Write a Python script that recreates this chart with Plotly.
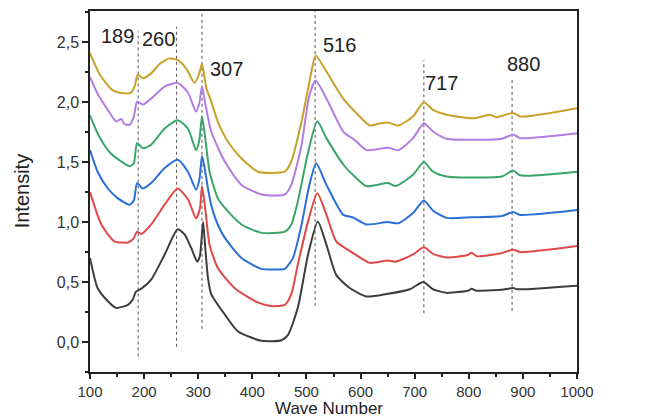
import plotly.graph_objects as go

# ---- data ----
wn_0 = [100, 114, 133, 148, 170, 179, 185, 195, 213, 238, 262, 275, 287, 298, 303, 309, 313, 318, 324, 349, 373, 417, 454, 466, 484, 503, 521, 537, 555, 580, 611, 648, 691, 716, 734, 759, 800, 805, 812, 860, 882, 890, 1000]
int_0 = [0.70, 0.45, 0.34, 0.285, 0.31, 0.355, 0.42, 0.445, 0.52, 0.73, 0.94, 0.895, 0.785, 0.67, 0.715, 1.00, 0.785, 0.535, 0.40, 0.23, 0.09, 0.01, 0.015, 0.06, 0.285, 0.73, 1.005, 0.81, 0.56, 0.45, 0.38, 0.40, 0.44, 0.50, 0.44, 0.41, 0.43, 0.445, 0.43, 0.435, 0.45, 0.44, 0.47]

wn_025 = [100, 121, 145, 170, 180, 187, 195, 213, 238, 262, 281, 296, 303, 307, 313, 321, 336, 367, 410, 435, 460, 472, 484, 503, 520, 537, 555, 580, 590, 617, 650, 665, 697, 717, 734, 759, 798, 805, 815, 860, 882, 895, 1000]
int_025 = [1.25, 0.98, 0.84, 0.83, 0.86, 0.92, 0.90, 0.98, 1.145, 1.28, 1.19, 1.03, 1.11, 1.30, 1.11, 0.81, 0.62, 0.45, 0.33, 0.30, 0.31, 0.40, 0.645, 1.006, 1.24, 1.06, 0.84, 0.76, 0.73, 0.66, 0.68, 0.67, 0.73, 0.79, 0.735, 0.705, 0.725, 0.745, 0.715, 0.74, 0.77, 0.75, 0.80]

wn_050 = [100, 114, 133, 151, 173, 181, 187, 198, 213, 238, 262, 281, 296, 302, 307, 313, 318, 324, 336, 349, 380, 417, 447, 460, 475, 491, 505, 518, 537, 568, 585, 611, 650, 670, 697, 717, 734, 759, 805, 861, 882, 895, 1000]
int_050 = [1.60, 1.42, 1.28, 1.20, 1.145, 1.18, 1.325, 1.28, 1.325, 1.45, 1.52, 1.42, 1.27, 1.35, 1.55, 1.42, 1.28, 1.14, 0.98, 0.87, 0.70, 0.61, 0.605, 0.61, 0.70, 0.98, 1.30, 1.49, 1.31, 1.06, 1.04, 0.98, 1.00, 0.99, 1.075, 1.18, 1.095, 1.035, 1.04, 1.05, 1.085, 1.06, 1.10]

wn_075 = [100, 114, 133, 144, 158, 173, 181, 187, 198, 213, 238, 262, 281, 296, 302, 307, 313, 321, 336, 349, 380, 417, 460, 472, 484, 503, 520, 537, 568, 589, 611, 651, 665, 697, 717, 734, 759, 861, 882, 895, 1000]
int_075 = [1.89, 1.74, 1.60, 1.55, 1.505, 1.465, 1.49, 1.66, 1.615, 1.645, 1.78, 1.85, 1.78, 1.60, 1.68, 1.88, 1.70, 1.42, 1.20, 1.12, 0.98, 0.91, 0.92, 0.98, 1.17, 1.58, 1.84, 1.70, 1.48, 1.38, 1.30, 1.325, 1.30, 1.395, 1.50, 1.42, 1.38, 1.38, 1.43, 1.39, 1.42]

wn_15 = [100, 114, 133, 148, 158, 163, 173, 181, 187, 198, 213, 238, 262, 281, 296, 302, 307, 313, 324, 349, 380, 417, 460, 472, 491, 505, 517, 537, 568, 589, 611, 651, 670, 697, 717, 734, 759, 861, 882, 895, 1000]
int_15 = [2.21, 2.07, 1.935, 1.84, 1.86, 1.82, 1.81, 1.88, 2.005, 1.98, 2.03, 2.13, 2.16, 2.08, 1.92, 1.99, 2.13, 1.99, 1.755, 1.505, 1.31, 1.23, 1.23, 1.31, 1.645, 2.05, 2.18, 2.03, 1.755, 1.685, 1.60, 1.62, 1.60, 1.70, 1.825, 1.755, 1.695, 1.695, 1.73, 1.70, 1.74]

wn_3 = [100, 118, 142, 161, 176, 183, 188, 198, 213, 229, 247, 262, 278, 293, 302, 307, 315, 324, 336, 355, 380, 410, 435, 460, 472, 491, 509, 517, 537, 568, 592, 617, 633, 651, 670, 697, 717, 734, 759, 808, 839, 851, 882, 895, 1000]
int_3 = [2.41, 2.23, 2.10, 2.075, 2.08, 2.14, 2.23, 2.20, 2.24, 2.32, 2.365, 2.35, 2.28, 2.16, 2.24, 2.32, 2.115, 2.005, 1.84, 1.67, 1.53, 1.42, 1.41, 1.42, 1.505, 1.84, 2.25, 2.39, 2.255, 2.03, 1.91, 1.805, 1.82, 1.83, 1.805, 1.88, 2.00, 1.935, 1.895, 1.865, 1.895, 1.875, 1.91, 1.88, 1.95]

series_names = ["0%", "0.25%", "0.50%", "0.75%", "1.5%", "3%"]
series_x = [wn_0, wn_025, wn_050, wn_075, wn_15, wn_3]
series_y = [int_0, int_025, int_050, int_075, int_15, int_3]
series_colors = ["#3d3d3d", "#e04848", "#2a6fd6", "#3aa56a", "#b47ce0", "#c9a12a"]
label_y = [0.445, 0.796, 1.086, 1.395, 1.70, 1.915]

peak_wn = [189, 260, 307, 516, 717, 880]
peak_line_top = [2.59, 2.63, 2.76, 2.76, 2.35, 2.19]
peak_line_bottom = [-0.12, -0.04, 0.11, 0.30, 0.24, 0.26]
peak_label_x = [150, 226, 353, 562, 750, 902]
peak_label_y = [2.55, 2.53, 2.28, 2.48, 2.16, 2.32]

FONT = "Liberation Sans, Arial, sans-serif"

fig = go.Figure()
for name, xs, ys, col in zip(series_names, series_x, series_y, series_colors):
    fig.add_trace(go.Scatter(x=xs, y=ys, mode="lines", name=name,
                             line=dict(color=col, width=2, shape="spline", smoothing=0.6)))

for w, t, b in zip(peak_wn, peak_line_top, peak_line_bottom):
    fig.add_shape(type="line", xref="x", yref="y", x0=w, x1=w, y0=b, y1=t,
                  line=dict(color="#555555", width=1, dash="dot"), layer="below")

for w, lx, ly in zip(peak_wn, peak_label_x, peak_label_y):
    fig.add_annotation(x=lx, y=ly, xref="x", yref="y", text=str(w), showarrow=False,
                       font=dict(family=FONT, size=20, color="#222222"))

for name, ly in zip(series_names, label_y):
    fig.add_annotation(x=1023, y=ly, xref="x", yref="y", text=name, showarrow=False,
                       xanchor="left", font=dict(family=FONT, size=15, color="#222222"))

fig.add_annotation(x=0.49, y=-0.0725, xref="paper", yref="paper", text="Wave Number",
                   showarrow=False, yanchor="top", borderpad=0,
                   font=dict(family=FONT, size=17, color="#222222"))
fig.add_annotation(x=-0.14, y=0.5, xref="paper", yref="paper", text="Intensity",
                   showarrow=False, textangle=-90, xanchor="center",
                   font=dict(family=FONT, size=20, color="#222222"))

fig.update_layout(
    width=647, height=419,
    margin=dict(l=90, r=70, t=9, b=47),
    paper_bgcolor="white", plot_bgcolor="white",
    showlegend=False,
    separators=",.",
    font=dict(family=FONT, size=16, color="#333333"),
)
fig.update_xaxes(range=[100, 1000], tick0=100, dtick=100, ticks="outside", ticklen=5,
                 tickwidth=1.5, tickcolor="#222222", showgrid=False, zeroline=False,
                 showline=True, linecolor="#222222", linewidth=1.5, mirror=True,
                 tickfont=dict(size=15, color="#333333"),
                 minor=dict(dtick=50, tick0=100, ticks="outside", ticklen=3, tickcolor="#222222"))
fig.update_yaxes(range=[-0.25, 2.76], tick0=0, dtick=0.5, tickformat=".1f",
                 ticks="outside", ticklen=6, tickwidth=1.5, tickcolor="#222222",
                 showgrid=False, zeroline=False, showline=True, linecolor="#222222",
                 linewidth=1.5, mirror=True, tickfont=dict(size=16, color="#333333"),
                 minor=dict(dtick=0.25, tick0=0, ticks="outside", ticklen=3, tickcolor="#222222"))

fig.write_html("out.html")
